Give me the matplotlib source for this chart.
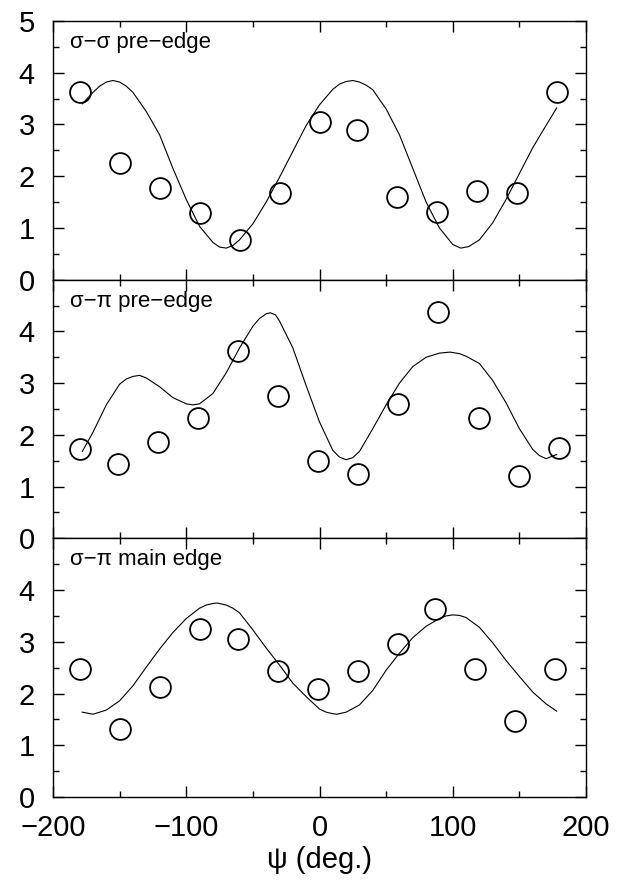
import numpy as np
import matplotlib.pyplot as plt

plt.rcParams['font.family'] = ['Liberation Sans', 'DejaVu Sans']

# --- measured intensities vs azimuth psi ---
psi_ss = [-180, -150, -120, -90, -60, -30, 0, 28, 58, 88, 118, 148, 178]
int_ss = [3.62, 2.25, 1.78, 1.29, 0.77, 1.67, 3.05, 2.90, 1.60, 1.31, 1.72, 1.67, 3.63]

psi_sp = [-180, -151, -121, -91, -61, -31, -1, 29, 59, 89, 120, 150, 180]
int_sp = [1.72, 1.43, 1.87, 2.33, 3.63, 2.76, 1.50, 1.25, 2.60, 4.37, 2.33, 1.20, 1.75]

psi_main = [-180, -150, -120, -90, -61, -31, -1, 29, 59, 87, 117, 147, 177]
int_main = [2.47, 1.31, 2.12, 3.24, 3.06, 2.43, 2.09, 2.43, 2.95, 3.64, 2.47, 1.46, 2.47]

# --- calculated curves ---
fit_ss_x = [-178, -170, -165, -160, -155, -150, -145, -140, -130, -120, -110, -100, -90,
            -80, -75, -70, -65, -60, -50, -40, -30, -20, -10, 0, 10, 15, 20, 25, 30, 35,
            40, 50, 60, 70, 80, 90, 100, 106, 112, 120, 130, 140, 150, 160, 170, 178]
fit_ss_y = [3.40, 3.62, 3.74, 3.82, 3.85, 3.82, 3.74, 3.62, 3.25, 2.80, 2.15, 1.55, 1.03,
            0.72, 0.63, 0.61, 0.66, 0.77, 1.08, 1.50, 1.98, 2.48, 2.98, 3.38, 3.68, 3.78,
            3.83, 3.85, 3.82, 3.76, 3.67, 3.30, 2.80, 2.15, 1.50, 1.00, 0.68, 0.61, 0.64,
            0.77, 1.10, 1.55, 2.05, 2.55, 2.98, 3.32]

fit_sp_x = [-178, -170, -160, -150, -145, -140, -135, -130, -120, -110, -100, -95, -90,
            -80, -70, -60, -50, -45, -40, -37, -33, -30, -20, -10, 0, 10, 15, 20, 25, 30,
            40, 50, 60, 70, 80, 90, 98, 105, 110, 120, 130, 140, 150, 160, 165, 170, 178]
fit_sp_y = [1.68, 2.05, 2.58, 2.98, 3.08, 3.13, 3.15, 3.10, 2.93, 2.72, 2.60, 2.58, 2.60,
            2.80, 3.20, 3.68, 4.10, 4.25, 4.34, 4.36, 4.32, 4.20, 3.68, 2.95, 2.25, 1.70,
            1.57, 1.52, 1.56, 1.68, 2.12, 2.58, 3.00, 3.32, 3.50, 3.58, 3.60, 3.57, 3.52,
            3.38, 3.05, 2.62, 2.12, 1.72, 1.60, 1.54, 1.62]

fit_main_x = [-178, -170, -160, -150, -140, -130, -120, -110, -100, -90, -85, -80, -77,
              -70, -65, -60, -50, -40, -30, -20, -10, 0, 5, 10, 13, 20, 30, 40, 50, 60, 70,
              80, 90, 95, 100, 105, 110, 120, 130, 140, 150, 160, 170, 178]
fit_main_y = [1.64, 1.60, 1.68, 1.86, 2.15, 2.51, 2.86, 3.18, 3.45, 3.65, 3.71, 3.74, 3.75,
              3.71, 3.65, 3.56, 3.23, 2.88, 2.55, 2.20, 1.94, 1.70, 1.64, 1.61, 1.60, 1.64,
              1.78, 2.06, 2.45, 2.78, 3.08, 3.30, 3.45, 3.50, 3.52, 3.51, 3.47, 3.28, 2.98,
              2.64, 2.33, 2.03, 1.80, 1.66]

labels = ['σ−σ pre−edge', 'σ−π pre−edge', 'σ−π main edge']
points = [(psi_ss, int_ss), (psi_sp, int_sp), (psi_main, int_main)]
curves = [(fit_ss_x, fit_ss_y), (fit_sp_x, fit_sp_y), (fit_main_x, fit_main_y)]

fig = plt.figure(figsize=(6.18, 8.94), dpi=100)
left, right = 53 / 618, 586 / 618
top, bottom = 1 - 21 / 894, 1 - 797 / 894
h = (top - bottom) / 3

for i in range(3):
    ax = fig.add_axes([left, top - (i + 1) * h, right - left, h])
    px, py = points[i]
    cx, cy = curves[i]
    ax.plot(cx, cy, color='black', linewidth=0.8)
    ax.plot(px, py, 'o', markersize=15, markerfacecolor='none',
            markeredgecolor='black', markeredgewidth=1.3, linestyle='none')

    ax.set_xlim(-200, 200)
    ax.set_ylim(0, 5)
    ax.set_xticks([-200, -100, 0, 100, 200])
    ax.set_xticks([-150, -50, 50, 150], minor=True)
    if i == 0:
        ax.set_yticks([0, 1, 2, 3, 4, 5])
    else:
        ax.set_yticks([0, 1, 2, 3, 4])
    ax.set_yticks([0.5, 1.5, 2.5, 3.5, 4.5], minor=True)
    ax.tick_params(which='both', direction='in', top=True, right=True,
                   width=1.0, labelsize=21)
    ax.tick_params(which='major', length=8)
    ax.tick_params(which='minor', length=4.5)
    ax.tick_params(axis='y', pad=13)
    ax.tick_params(axis='x', pad=12)
    for s in ax.spines.values():
        s.set_linewidth(1.0)

    if i < 2:
        ax.tick_params(labelbottom=False)
    else:
        ax.set_xlabel('ψ (deg.)', fontsize=21, labelpad=3)

    ax.text(0.032, 0.895, labels[i], transform=ax.transAxes, fontsize=16,
            ha='left', va='baseline')

fig.savefig('out.png', dpi=100)
